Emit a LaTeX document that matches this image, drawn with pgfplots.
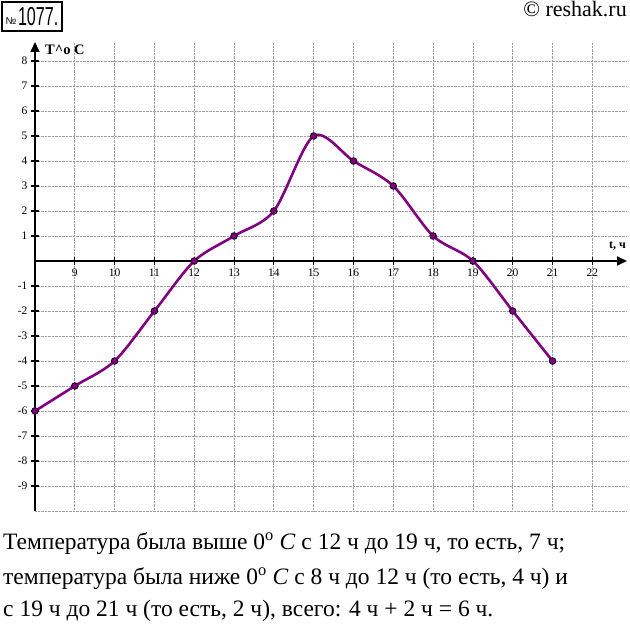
\documentclass[border=0pt]{standalone}
\usepackage{fontspec}
\setmainfont{Liberation Serif}
\newfontfamily\sansf{Liberation Sans}
\usepackage{pgfplots}
\pgfplotsset{compat=1.18}
\usetikzlibrary{arrows.meta}
\definecolor{curve}{RGB}{128,0,128}
\begin{document}
\begin{tikzpicture}[x=1pt,y=1pt]
\path[use as bounding box] (0,0) rectangle (630,626);
\begin{axis}[
  at={(35pt,115pt)}, anchor=south west,
  scale only axis, width=592pt, height=469pt,
  xmin=8, xmax=22.87, ymin=-10, ymax=8.76,
  axis x line=middle, axis y line=left,
  axis line style={line width=1.7pt, -{Triangle[length=10pt,width=9pt]}},
  xtick={9,...,22}, ytick={-9,...,-1,1,2,...,8},
  extra y ticks={-10}, extra y tick labels={}, extra y tick style={major tick length=0pt},
  tick align=center, major tick length=8pt, tick style={line width=1.1pt, black},
  grid=major, grid style={densely dotted, gray!75, line width=0.8pt},
  tick label style={font=\fontsize{11.5}{11.5}\selectfont},
  /pgf/number format/assume math mode=true,
  clip=false,
]
\addplot[curve, line width=2.6pt, smooth, mark=*, mark size=3.3pt,
  mark options={fill=curve, draw=black!75!curve, line width=0.9pt}]
  coordinates {(8,-6) (9,-5) (10,-4) (11,-2) (12,0) (13,1) (14,2) (15,5) (16,4) (17,3) (18,1) (19,0) (20,-2) (21,-4)};
\end{axis}
% labels
\node[anchor=base west, inner sep=0] at (45,571) {\fontsize{14.5}{14.5}\selectfont\bfseries T\textasciicircum o C};
\node[anchor=base west, inner sep=0] at (609,377) {\fontsize{12}{12}\selectfont\bfseries t, ч};
% header
\node[draw, line width=1.4pt, minimum width=60pt, minimum height=29pt, inner sep=0] at (32,609.5)
  {\sansf\raisebox{1pt}{\fontsize{10}{10}\selectfont №}\,\scalebox{0.62}[1]{\fontsize{26}{26}\selectfont 1077.}};
\node[anchor=base east, inner sep=0] at (627,609) {\fontsize{22}{22}\selectfont © reshak.ru};
% bottom text
\node[anchor=base west, inner sep=0] at (3,76) {\fontsize{23.5}{23.5}\selectfont Температура была выше 0\textsuperscript{o} \textit{C} с 12 ч до 19 ч, то есть, 7 ч;};
\node[anchor=base west, inner sep=0] at (3,41) {\fontsize{23.5}{23.5}\selectfont температура была ниже 0\textsuperscript{o} \textit{C} с 8 ч до 12 ч (то есть, 4 ч) и};
\node[anchor=base west, inner sep=0] at (3,9) {\fontsize{23.5}{23.5}\selectfont с 19 ч до 21 ч (то есть, 2 ч), всего: 4 ч + 2 ч = 6 ч.};
\end{tikzpicture}
\end{document}
